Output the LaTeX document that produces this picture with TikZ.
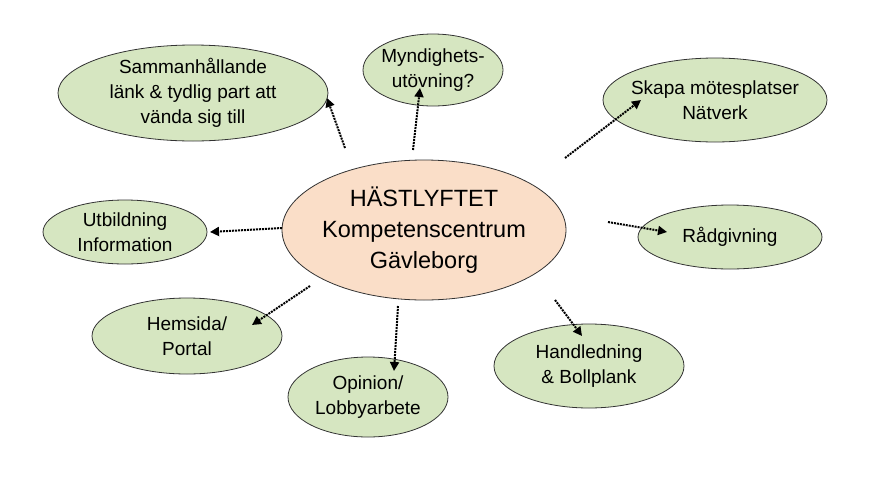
\documentclass[tikz,border=0pt]{standalone}
\usepackage{fontspec}
\setmainfont{Liberation Sans}
\usetikzlibrary{arrows.meta}
\definecolor{gfill}{RGB}{214,230,193}
\definecolor{pfill}{RGB}{250,222,200}
\begin{document}
\begin{tikzpicture}[x=1pt,y=-1pt,
  lbl/.style={align=center,font=\fontsize{19}{25}\selectfont},
  conn/.style={densely dotted,line width=2pt,-{Triangle[length=9pt,width=9pt]}}]
\useasboundingbox (0,0) rectangle (886,477);
\path[draw=black!80,line width=0.8pt,fill=pfill] (424,230) ellipse [x radius=142,y radius=70];
\node[align=center,font=\fontsize{23.5}{31}\selectfont] (c) at (424,230) {HÄSTLYFTET\\Kompetenscentrum\\Gävleborg};
\foreach \n/\x/\y/\rx/\ry in {a/193/93/135/48,b/433/70/70/36,s/715/100/112/42,u/125/232/82/32,r/730/237/92/32,h/187/336/95/38,o/368/397/80/40,l/589/366/95/42}
  \path[draw=black!80,line width=0.8pt,fill=gfill] (\x,\y) ellipse [x radius=\rx,y radius=\ry];
\node[lbl] (na) at (193,93) {Sammanhållande\\länk \& tydlig part att\\vända sig till};
\node[lbl] (nb) at (433,70) {Myndighets-\\utövning?};
\node[lbl] (ns) at (715,100) {Skapa mötesplatser\\Nätverk};
\node[lbl] (nu) at (125,232) {Utbildning\\Information};
\node[lbl] (nr) at (730,237) {Rådgivning};
\node[lbl] (nh) at (187,336) {Hemsida/\\Portal};
\node[lbl] (no) at (368,397) {Opinion/\\Lobbyarbete};
\node[lbl] (nl) at (589,366) {Handledning\\\& Bollplank};
\coordinate (a1) at (345,148); \coordinate (a2) at (327,98);
\coordinate (b1) at (413,150); \coordinate (b2) at (420,88);
\coordinate (s1) at (565,158); \coordinate (s2) at (641,100);
\coordinate (u1) at (282,228); \coordinate (u2) at (210,232);
\coordinate (r1) at (608,222); \coordinate (r2) at (667,232);
\coordinate (h1) at (310,286); \coordinate (h2) at (252,325);
\coordinate (o1) at (398,306); \coordinate (o2) at (394,371);
\coordinate (l1) at (555,300); \coordinate (l2) at (582,336);
\foreach \p in {a,b,s,u,r,h,o,l} \draw[conn] (\p1) -- (\p2);
\end{tikzpicture}
\end{document}
